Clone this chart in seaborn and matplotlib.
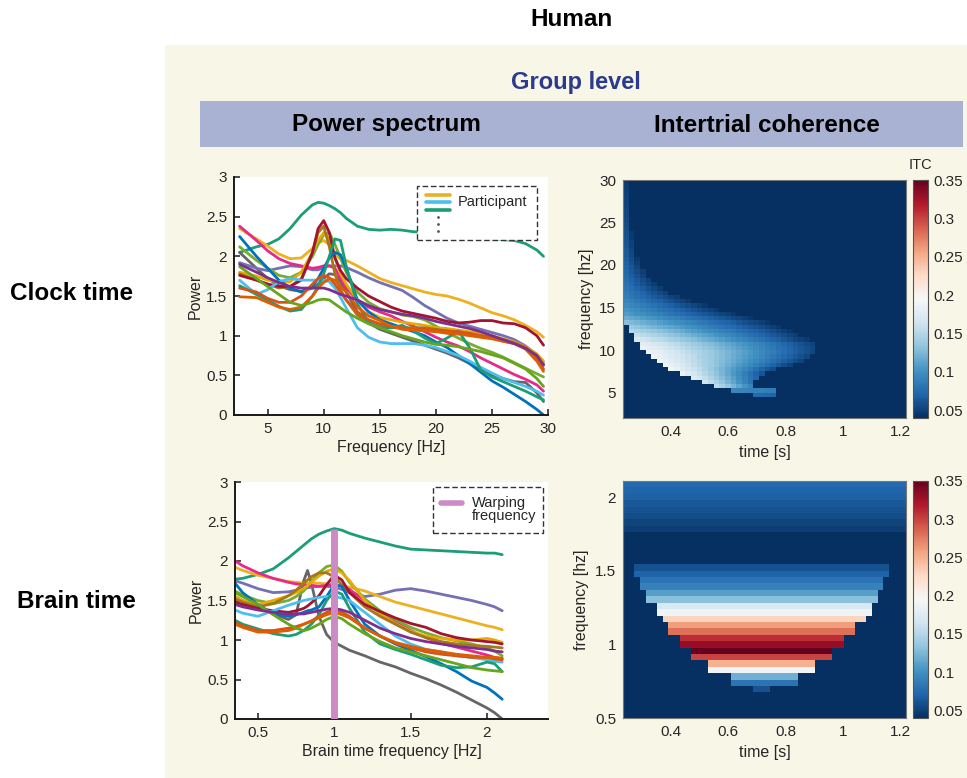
import numpy as np
import pandas as pd
import matplotlib
matplotlib.use("Agg")
import matplotlib.pyplot as plt
from matplotlib.patches import Rectangle
from matplotlib.lines import Line2D
import seaborn as sns

sns.set_theme(style="ticks")
plt.rcParams["font.family"] = ["Liberation Sans", "DejaVu Sans"]

# ---------------------------------------------------------------- participants
participants = [f"P{i:02d}" for i in range(1, 17)]
participant_colors = ["#1B9E77", "#666666", "#7570B3", "#EDB120", "#E7298A", "#77AC30",
                      "#E6AB02", "#A6761D", "#A2142F", "#0072BD", "#4DBEEE", "#1B9E77",
                      "#D95319", "#D95F02", "#66A61E", "#7E2F8E"]

# ---------------------------------------------------------------- clock-time spectra
clock_freq = [2.5, 4, 5, 6, 7, 8, 9, 9.5, 10, 10.5, 11, 11.5, 12, 13, 14, 15, 16, 17, 18, 19,
              20, 21, 22, 23, 24, 25, 26, 27, 28, 29, 29.6]
clock_p01 = [2.05, 2.12, 2.15, 2.22, 2.35, 2.52, 2.65, 2.68, 2.67, 2.64, 2.60, 2.55, 2.48, 2.38, 2.34, 2.33,
             2.34, 2.33, 2.31, 2.30, 2.28, 2.27, 2.26, 2.25, 2.24, 2.22, 2.21, 2.20, 2.16, 2.08, 2.00]
clock_p02 = [2.05, 1.85, 1.72, 1.63, 1.58, 1.56, 1.60, 1.65, 1.72, 1.78, 1.77, 1.68, 1.55, 1.30, 1.16, 1.08,
             1.03, 0.98, 0.93, 0.88, 0.83, 0.78, 0.72, 0.65, 0.58, 0.51, 0.46, 0.42, 0.41, 0.28, 0.17]
clock_p03 = [1.92, 1.85, 1.82, 1.85, 1.88, 1.87, 1.83, 1.83, 1.86, 1.88, 1.88, 1.88, 1.86, 1.80, 1.73, 1.67,
             1.62, 1.57, 1.48, 1.38, 1.30, 1.22, 1.16, 1.12, 1.08, 1.04, 1.00, 0.95, 0.87, 0.76, 0.65]
clock_p04 = [2.35, 2.22, 2.13, 2.03, 1.97, 1.98, 2.10, 2.17, 2.20, 2.15, 2.02, 1.97, 1.95, 1.88, 1.80, 1.72,
             1.67, 1.63, 1.59, 1.55, 1.52, 1.50, 1.46, 1.41, 1.35, 1.29, 1.25, 1.20, 1.13, 1.05, 0.98]
clock_p05 = [2.38, 2.20, 2.07, 1.97, 1.91, 1.88, 1.85, 1.86, 1.88, 1.88, 1.85, 1.72, 1.60, 1.45, 1.36, 1.30,
             1.25, 1.18, 1.12, 1.05, 0.98, 0.92, 0.87, 0.80, 0.72, 0.65, 0.58, 0.51, 0.45, 0.38, 0.30]
clock_p06 = [2.12, 1.95, 1.85, 1.76, 1.73, 1.80, 2.00, 2.15, 2.27, 2.30, 2.15, 1.98, 1.80, 1.55, 1.42, 1.34,
             1.30, 1.26, 1.24, 1.20, 1.12, 1.04, 0.97, 0.90, 0.84, 0.79, 0.73, 0.66, 0.59, 0.52, 0.48]
clock_p07 = [1.80, 1.75, 1.70, 1.68, 1.68, 1.80, 2.05, 2.20, 2.30, 2.22, 1.98, 1.78, 1.65, 1.45, 1.30, 1.23,
             1.20, 1.17, 1.15, 1.13, 1.10, 1.09, 1.07, 1.05, 1.03, 1.00, 0.96, 0.92, 0.86, 0.77, 0.68]
clock_p08 = [1.78, 1.70, 1.65, 1.60, 1.62, 1.72, 2.05, 2.30, 2.38, 2.12, 1.78, 1.58, 1.45, 1.26, 1.16, 1.12,
             1.10, 1.10, 1.10, 1.10, 1.08, 1.06, 1.04, 1.02, 1.00, 0.98, 0.95, 0.91, 0.85, 0.75, 0.63]
clock_p09 = [1.76, 1.70, 1.65, 1.62, 1.62, 1.70, 2.05, 2.35, 2.45, 2.30, 1.98, 1.82, 1.72, 1.60, 1.50, 1.43,
             1.36, 1.31, 1.28, 1.25, 1.22, 1.18, 1.16, 1.17, 1.19, 1.19, 1.16, 1.15, 1.10, 1.00, 0.88]
clock_p10 = [2.25, 2.00, 1.85, 1.70, 1.60, 1.55, 1.62, 1.72, 1.85, 1.98, 2.05, 2.02, 1.85, 1.45, 1.30, 1.20,
             1.15, 1.10, 1.05, 1.00, 0.92, 0.85, 0.75, 0.65, 0.54, 0.43, 0.35, 0.26, 0.17, 0.07, 0.00]
clock_p11 = [1.70, 1.52, 1.58, 1.68, 1.72, 1.70, 1.70, 1.70, 1.70, 1.68, 1.60, 1.48, 1.35, 1.10, 0.98, 0.92,
             0.90, 0.90, 0.90, 0.88, 0.85, 0.80, 0.75, 0.68, 0.60, 0.53, 0.46, 0.41, 0.36, 0.30, 0.25]
clock_p12 = [1.63, 1.52, 1.45, 1.37, 1.31, 1.33, 1.50, 1.62, 1.78, 2.00, 2.22, 2.20, 1.88, 1.40, 1.17, 1.10,
             1.10, 1.13, 1.06, 0.97, 0.90, 0.97, 1.06, 0.85, 0.57, 0.48, 0.42, 0.36, 0.30, 0.23, 0.19]
clock_p13 = [1.60, 1.55, 1.47, 1.42, 1.42, 1.50, 1.65, 1.72, 1.76, 1.73, 1.65, 1.55, 1.45, 1.30, 1.20, 1.15,
             1.12, 1.10, 1.08, 1.08, 1.07, 1.06, 1.05, 1.03, 1.00, 0.97, 0.93, 0.90, 0.85, 0.72, 0.58]
clock_p14 = [1.49, 1.48, 1.42, 1.36, 1.33, 1.36, 1.50, 1.60, 1.67, 1.72, 1.70, 1.62, 1.55, 1.36, 1.25, 1.19,
             1.12, 1.08, 1.07, 1.06, 1.05, 1.03, 1.02, 1.00, 0.98, 0.96, 0.93, 0.90, 0.83, 0.68, 0.55]
clock_p15 = [1.87, 1.72, 1.62, 1.52, 1.42, 1.38, 1.42, 1.45, 1.46, 1.45, 1.40, 1.35, 1.30, 1.22, 1.15, 1.10,
             1.05, 1.00, 0.96, 0.92, 0.89, 0.88, 0.86, 0.83, 0.80, 0.76, 0.72, 0.65, 0.58, 0.46, 0.36]
clock_p16 = [1.90, 1.80, 1.73, 1.67, 1.62, 1.60, 1.60, 1.60, 1.60, 1.58, 1.55, 1.52, 1.50, 1.45, 1.38, 1.33,
             1.30, 1.27, 1.25, 1.22, 1.18, 1.15, 1.12, 1.09, 1.05, 1.00, 0.95, 0.90, 0.84, 0.75, 0.63]
clock_power = [clock_p01, clock_p02, clock_p03, clock_p04, clock_p05, clock_p06, clock_p07, clock_p08,
               clock_p09, clock_p10, clock_p11, clock_p12, clock_p13, clock_p14, clock_p15, clock_p16]

# ---------------------------------------------------------------- brain-time spectra
brain_freq = [0.35, 0.4, 0.5, 0.6, 0.7, 0.75, 0.8, 0.825, 0.85, 0.9, 0.95, 1.0, 1.05, 1.1, 1.2, 1.3,
              1.4, 1.5, 1.6, 1.7, 1.8, 1.9, 2.0, 2.05, 2.1]
brain_p01 = [1.77, 1.78, 1.83, 1.90, 2.04, 2.12, 2.20, 2.24, 2.28, 2.34, 2.38, 2.41, 2.39, 2.35, 2.29, 2.24,
             2.19, 2.15, 2.14, 2.13, 2.12, 2.11, 2.10, 2.10, 2.08]
brain_p02 = [1.55, 1.50, 1.42, 1.33, 1.26, 1.32, 1.75, 1.88, 1.72, 1.30, 1.07, 0.97, 0.92, 0.87, 0.80, 0.72,
             0.66, 0.58, 0.51, 0.43, 0.34, 0.24, 0.14, 0.08, 0.00]
brain_p03 = [1.75, 1.72, 1.65, 1.60, 1.61, 1.63, 1.65, 1.66, 1.67, 1.68, 1.68, 1.67, 1.64, 1.60, 1.55, 1.58,
             1.63, 1.65, 1.62, 1.58, 1.54, 1.50, 1.45, 1.42, 1.37]
brain_p04 = [1.92, 1.88, 1.82, 1.78, 1.74, 1.73, 1.72, 1.72, 1.72, 1.72, 1.71, 1.70, 1.69, 1.67, 1.62, 1.55,
             1.48, 1.43, 1.38, 1.33, 1.28, 1.23, 1.18, 1.16, 1.13]
brain_p05 = [2.00, 1.94, 1.85, 1.78, 1.73, 1.71, 1.70, 1.69, 1.69, 1.68, 1.69, 1.70, 1.68, 1.64, 1.50, 1.36,
             1.23, 1.12, 1.03, 0.96, 0.91, 0.86, 0.81, 0.78, 0.76]
brain_p06 = [1.62, 1.57, 1.50, 1.46, 1.50, 1.55, 1.62, 1.68, 1.74, 1.85, 1.93, 1.95, 1.87, 1.73, 1.52, 1.37,
             1.26, 1.16, 1.09, 1.03, 0.99, 0.95, 0.90, 0.86, 0.80]
brain_p07 = [1.55, 1.50, 1.45, 1.50, 1.56, 1.60, 1.65, 1.69, 1.73, 1.81, 1.87, 1.90, 1.85, 1.75, 1.50, 1.33,
             1.21, 1.11, 1.05, 1.02, 1.00, 1.00, 1.02, 1.00, 0.97]
brain_p08 = [1.52, 1.48, 1.42, 1.46, 1.56, 1.63, 1.72, 1.76, 1.80, 1.85, 1.85, 1.80, 1.70, 1.60, 1.42, 1.30,
             1.20, 1.10, 1.03, 0.98, 0.95, 0.93, 0.92, 0.91, 0.90]
brain_p09 = [1.48, 1.45, 1.40, 1.37, 1.35, 1.37, 1.40, 1.43, 1.47, 1.56, 1.70, 1.82, 1.76, 1.60, 1.45, 1.36,
             1.28, 1.21, 1.16, 1.08, 1.03, 1.00, 0.98, 0.97, 0.95]
brain_p10 = [1.72, 1.60, 1.45, 1.33, 1.30, 1.32, 1.35, 1.37, 1.38, 1.42, 1.55, 1.70, 1.68, 1.50, 1.20, 1.05,
             0.95, 0.87, 0.79, 0.70, 0.60, 0.48, 0.40, 0.33, 0.25]
brain_p11 = [1.38, 1.34, 1.30, 1.37, 1.44, 1.47, 1.50, 1.51, 1.52, 1.54, 1.55, 1.55, 1.53, 1.50, 1.35, 1.20,
             1.05, 0.95, 0.88, 0.85, 0.80, 0.78, 0.75, 0.73, 0.72]
brain_p12 = [1.25, 1.20, 1.14, 1.08, 1.05, 1.07, 1.12, 1.16, 1.20, 1.32, 1.50, 1.62, 1.58, 1.40, 1.10, 0.95,
             0.88, 0.82, 0.75, 0.68, 0.65, 0.66, 0.72, 0.70, 0.60]
brain_p13 = [1.22, 1.18, 1.12, 1.12, 1.15, 1.17, 1.20, 1.22, 1.24, 1.30, 1.35, 1.38, 1.35, 1.30, 1.15, 1.05,
             0.96, 0.90, 0.85, 0.82, 0.80, 0.78, 0.78, 0.76, 0.75]
brain_p14 = [1.20, 1.16, 1.10, 1.10, 1.12, 1.15, 1.20, 1.22, 1.24, 1.28, 1.32, 1.35, 1.32, 1.28, 1.15, 1.05,
             0.97, 0.92, 0.88, 0.85, 0.82, 0.80, 0.78, 0.78, 0.77]
brain_p15 = [1.60, 1.55, 1.45, 1.32, 1.20, 1.15, 1.12, 1.13, 1.15, 1.20, 1.26, 1.30, 1.27, 1.20, 1.08, 0.98,
             0.90, 0.85, 0.80, 0.75, 0.70, 0.65, 0.62, 0.61, 0.60]
brain_p16 = [1.45, 1.42, 1.38, 1.35, 1.33, 1.33, 1.33, 1.34, 1.35, 1.37, 1.39, 1.40, 1.38, 1.35, 1.25, 1.15,
             1.08, 1.02, 0.98, 0.95, 0.92, 0.90, 0.88, 0.86, 0.85]
brain_power = [brain_p01, brain_p02, brain_p03, brain_p04, brain_p05, brain_p06, brain_p07, brain_p08,
               brain_p09, brain_p10, brain_p11, brain_p12, brain_p13, brain_p14, brain_p15, brain_p16]

warp_freq = 1.0
warp_height = 2.4
warp_color = "#CC8BC5"

# ---------------------------------------------------------------- ITC maps
itc_vmin, itc_vmax = 0.04, 0.35
itc_background = 0.04
itc_ticks = [0.05, 0.1, 0.15, 0.2, 0.25, 0.3, 0.35]
time_start, time_stop, n_time = 0.232, 1.221, 50

# clock time: 0.5 Hz rows from 2 to 30 Hz; rows with coherence listed by lower edge
clock_itc_row = [4.5, 5.0, 5.5, 6.0, 6.5, 7.0, 7.5, 8.0, 8.5, 9.0, 9.5, 10.0, 10.5, 11.0, 11.5, 12.0, 12.5,
                 13.0, 13.5, 14.0, 14.5, 15.0, 15.5, 16.0, 16.5, 17.0, 17.5, 18.0, 18.5, 19.0, 19.5, 20.0,
                 20.5, 21.0, 21.5, 22.0, 22.5, 23.0, 23.5, 24.0, 24.5, 25.0, 25.5, 26.0, 26.5, 27.0, 27.5,
                 28.0, 28.5, 29.0, 29.5]
clock_itc_onset = [0.694, 0.606, 0.55, 0.50, 0.46, 0.43, 0.40, 0.375, 0.35, 0.33, 0.315, 0.30, 0.292, 0.28,
                   0.27, 0.26, 0.248, 0.24, 0.232, 0.232, 0.232, 0.232, 0.232, 0.232, 0.232, 0.232, 0.232,
                   0.232, 0.232, 0.232, 0.232, 0.232, 0.232, 0.232, 0.232, 0.232, 0.232, 0.232, 0.232, 0.232,
                   0.232, 0.232, 0.232, 0.232, 0.232, 0.232, 0.232, 0.232, 0.232, 0.232, 0.232]
clock_itc_end = [0.771, 0.775, 0.68, 0.68, 0.70, 0.72, 0.76, 0.82, 0.86, 0.89, 0.91, 0.91, 0.90, 0.88, 0.85,
                 0.82, 0.78, 0.74, 0.68, 0.62, 0.57, 0.52, 0.47, 0.43, 0.40, 0.37, 0.35, 0.335, 0.32, 0.31,
                 0.30, 0.29, 0.285, 0.28, 0.275, 0.27, 0.27, 0.265, 0.265, 0.26, 0.26, 0.258, 0.256, 0.255,
                 0.254, 0.253, 0.252, 0.25, 0.25, 0.248, 0.246]
clock_itc_start_val = [0.075, 0.095, 0.16, 0.175, 0.185, 0.19, 0.19, 0.19, 0.19, 0.19, 0.19, 0.185, 0.18,
                       0.17, 0.16, 0.15, 0.14, 0.13, 0.12, 0.11, 0.105, 0.10, 0.095, 0.09, 0.088, 0.085,
                       0.082, 0.08, 0.078, 0.076, 0.075, 0.073, 0.072, 0.07, 0.07, 0.068, 0.067, 0.066,
                       0.065, 0.064, 0.063, 0.062, 0.061, 0.06, 0.059, 0.058, 0.057, 0.056, 0.055, 0.054,
                       0.052]
clock_itc_end_val = [0.07, 0.085, 0.09, 0.08, 0.07, 0.06, 0.055, 0.05, 0.05, 0.05, 0.05, 0.05, 0.05, 0.045,
                     0.045, 0.045, 0.045, 0.045, 0.045, 0.045, 0.045, 0.045, 0.045, 0.045, 0.045, 0.045,
                     0.045, 0.045, 0.045, 0.045, 0.045, 0.045, 0.045, 0.045, 0.045, 0.045, 0.045, 0.045,
                     0.045, 0.045, 0.045, 0.045, 0.045, 0.045, 0.045, 0.045, 0.045, 0.045, 0.045, 0.045,
                     0.045]

# brain time: 37 rows of 0.0435 Hz from 0.5 Hz, listed bottom to top
brain_itc_low, brain_itc_step = 0.5, 0.0435
brain_itc_level = [0.04, 0.04, 0.04, 0.04, 0.06, 0.08, 0.12, 0.19, 0.25, 0.30, 0.35, 0.33, 0.31, 0.28,
                   0.26, 0.23, 0.19, 0.17, 0.13, 0.11, 0.09, 0.08, 0.07, 0.06, 0.04, 0.04, 0.04, 0.04,
                   0.04, 0.048, 0.052, 0.056, 0.06, 0.064, 0.068, 0.071, 0.074]
brain_itc_onset = [0, 0, 0, 0, 0.686, 0.606, 0.606, 0.527, 0.527, 0.478, 0.478, 0.429, 0.429, 0.40, 0.40,
                   0.371, 0.342, 0.342, 0.313, 0.313, 0.292, 0.292, 0.271, 0.271, 0, 0, 0, 0, 0, 0.232,
                   0.232, 0.232, 0.232, 0.232, 0.232, 0.232, 0.232]
brain_itc_end = [0, 0, 0, 0, 0.753, 0.839, 0.839, 0.909, 0.909, 0.958, 0.958, 1.008, 1.008, 1.047, 1.047,
                 1.076, 1.105, 1.105, 1.125, 1.125, 1.146, 1.146, 1.163, 1.163, 0, 0, 0, 0, 0, 1.221,
                 1.221, 1.221, 1.221, 1.221, 1.221, 1.221, 1.221]

# ---------------------------------------------------------------- styling
ink = "#262626"
beige = "#F8F6E7"
band = "#A9B2D2"
tick_size = 11
label_size = 11.5
head_size = 17.5

W, H = 967, 778
fig = plt.figure(figsize=(W / 100, H / 100), dpi=100)
fig.patch.set_facecolor("white")


def px_axes(x0, y0, x1, y1):
    return fig.add_axes([x0 / W, 1 - y1 / H, (x1 - x0) / W, (y1 - y0) / H])


def fig_text(x, y, s, **kw):
    fig.text(x / W, 1 - y / H, s, ha="center", va="center", **kw)


# backgrounds and headings
fig.patches.append(Rectangle((165 / W, 0), 1 - 165 / W, 1 - 45 / H, transform=fig.transFigure,
                             facecolor=beige, edgecolor="none", zorder=-5))
fig.patches.append(Rectangle((200 / W, 1 - 147 / H), 763 / W, 46 / H, transform=fig.transFigure,
                             facecolor=band, edgecolor="none", zorder=-4))
fig_text(572, 19, "Human", fontsize=head_size, fontweight="bold", color="black")
fig_text(576, 82, "Group level", fontsize=17, fontweight="bold", color="#2B3A8E")
fig_text(386, 125, "Power spectrum", fontsize=head_size, fontweight="bold", color="black")
fig_text(767, 125, "Intertrial coherence", fontsize=head_size, fontweight="bold", color="black")
fig_text(72, 293, "Clock time", fontsize=head_size, fontweight="bold", color="black")
fig_text(76, 602, "Brain time", fontsize=head_size, fontweight="bold", color="black")

palette = dict(zip(participants, participant_colors))


def spectrum(ax, freqs, curves, xlim, xticks, xticklabels, xlabel):
    records = []
    for pid, values in zip(participants, curves):
        for f, p in zip(freqs, values):
            records.append((pid, f, p))
    df = pd.DataFrame(records, columns=["participant", "freq", "power"])
    sns.lineplot(data=df, x="freq", y="power", hue="participant", palette=palette,
                 estimator=None, sort=False, linewidth=2.0, legend=False, ax=ax)
    ax.set_facecolor("white")
    ax.set_xlim(*xlim)
    ax.set_ylim(0, 3)
    ax.set_xticks(xticks)
    ax.set_xticklabels(xticklabels)
    ax.set_yticks([0, 0.5, 1, 1.5, 2, 2.5, 3])
    ax.set_yticklabels(["0", "0.5", "1", "1.5", "2", "2.5", "3"])
    sns.despine(ax=ax)
    for s in ("left", "bottom"):
        ax.spines[s].set_color("#1a1a1a")
        ax.spines[s].set_linewidth(1.4)
    ax.tick_params(direction="in", length=4, width=1.1, color="#1a1a1a",
                   labelsize=tick_size, labelcolor=ink, pad=5)
    ax.set_xlabel(xlabel, fontsize=label_size, color=ink, labelpad=3)
    ax.set_ylabel("Power", fontsize=label_size, color=ink, labelpad=2)


def dashed_box(ax, x0, y0, x1, y1):
    ax.add_patch(Rectangle((x0, y0), x1 - x0, y1 - y0, transform=ax.transAxes, facecolor="white",
                           edgecolor="#333333", linewidth=1.0, linestyle=(0, (4, 2)),
                           clip_on=False, zorder=5))


# ---- clock-time spectra
ax_tl = px_axes(234, 177, 548, 415)
spectrum(ax_tl, clock_freq, clock_power, (2, 30), [5, 10, 15, 20, 25, 30],
         ["5", "10", "15", "20", "25", "30"], "Frequency [Hz]")
dashed_box(ax_tl, 0.583, 0.735, 0.965, 0.962)
for yy, c in zip([0.924, 0.893, 0.861], ["#EDB120", "#4DBEEE", "#1B9E77"]):
    ax_tl.add_line(Line2D([0.611, 0.688], [yy, yy], transform=ax_tl.transAxes, color=c,
                          linewidth=2.6, zorder=6))
for yy in [0.831, 0.803, 0.775]:
    ax_tl.add_line(Line2D([0.650], [yy], transform=ax_tl.transAxes, marker="o", markersize=2.0,
                          markeredgewidth=0, color="#555555", linestyle="none", zorder=6))
ax_tl.text(0.713, 0.893, "Participant", transform=ax_tl.transAxes, fontsize=10.5, color=ink,
           ha="left", va="center", zorder=6)

# ---- brain-time spectra
ax_bl = px_axes(235, 482, 548, 719)
spectrum(ax_bl, brain_freq, brain_power, (0.35, 2.4), [0.5, 1, 1.5, 2],
         ["0.5", "1", "1.5", "2"], "Brain time frequency [Hz]")
ax_bl.plot([warp_freq, warp_freq], [0, warp_height], color=warp_color, linewidth=5.0,
           solid_capstyle="butt", zorder=4)
dashed_box(ax_bl, 0.633, 0.785, 0.984, 0.979)
ax_bl.add_line(Line2D([0.658, 0.725], [0.911, 0.911], transform=ax_bl.transAxes, color=warp_color,
                      linewidth=4.0, zorder=6))
ax_bl.text(0.757, 0.913, "Warping", transform=ax_bl.transAxes, fontsize=10.5, color=ink,
           ha="left", va="center", zorder=6)
ax_bl.text(0.757, 0.855, "frequency", transform=ax_bl.transAxes, fontsize=10.5, color=ink,
           ha="left", va="center", zorder=6)

# ---- ITC maps
time_step = (time_stop - time_start) / n_time
time_centers = time_start + time_step * (np.arange(n_time) + 0.5)


def fill_rows(n_rows, row_index, onset, end, v_start, v_end):
    grid = np.full((n_rows, n_time), itc_background)
    for r, t0, t1, a, b in zip(row_index, onset, end, v_start, v_end):
        if t1 <= t0:
            continue
        inside = (time_centers >= t0) & (time_centers < t1)
        frac = (time_centers[inside] - t0) / (t1 - t0)
        grid[r, inside] = a + (b - a) * frac
    return grid


def itc_panel(ax, cax, grid, ytick_pos, ytick_labels, show_title):
    sns.heatmap(grid[::-1], ax=ax, cmap="RdBu_r", vmin=itc_vmin, vmax=itc_vmax, cbar_ax=cax,
                cbar_kws={"ticks": itc_ticks}, xticklabels=False, yticklabels=False)
    xt = [0.4, 0.6, 0.8, 1.0, 1.2]
    ax.set_xticks([(t - time_start) / time_step for t in xt])
    ax.set_xticklabels(["0.4", "0.6", "0.8", "1", "1.2"], rotation=0)
    ax.set_yticks(ytick_pos)
    ax.set_yticklabels(ytick_labels, rotation=0)
    ax.tick_params(length=0, labelsize=tick_size, labelcolor=ink, pad=5)
    for s in ax.spines.values():
        s.set_visible(True)
        s.set_color("#777777")
        s.set_linewidth(0.8)
    ax.set_xlabel("time [s]", fontsize=label_size, color=ink, labelpad=4)
    ax.set_ylabel("frequency [hz]", fontsize=label_size, color=ink, labelpad=4)
    cbar = ax.collections[0].colorbar
    cbar.outline.set_edgecolor("#555555")
    cbar.outline.set_linewidth(0.8)
    cax.set_yticklabels(["0.05", "0.1", "0.15", "0.2", "0.25", "0.3", "0.35"])
    cax.tick_params(direction="in", length=3, width=0.8, color="#555555",
                    labelsize=tick_size, labelcolor=ink, pad=4)
    if show_title:
        cax.set_title("ITC", fontsize=10.5, color=ink, pad=8)


clock_low, clock_step, clock_rows = 2.0, 0.5, 56
clock_grid = fill_rows(clock_rows, [int(round((f - clock_low) / clock_step)) for f in clock_itc_row],
                       clock_itc_onset, clock_itc_end, clock_itc_start_val, clock_itc_end_val)
clock_top = clock_low + clock_step * clock_rows
ax_tr = px_axes(623, 180, 906, 418)
cax_tr = px_axes(913, 180, 928, 418)
itc_panel(ax_tr, cax_tr, clock_grid,
          [(clock_top - f) / clock_step for f in [5, 10, 15, 20, 25, 30]],
          ["5", "10", "15", "20", "25", "30"], True)

brain_rows = len(brain_itc_level)
brain_grid = fill_rows(brain_rows, range(brain_rows), brain_itc_onset, brain_itc_end,
                       brain_itc_level, brain_itc_level)
brain_top = brain_itc_low + brain_itc_step * brain_rows
ax_br = px_axes(623, 481, 906, 718)
cax_br = px_axes(913, 481, 928, 718)
itc_panel(ax_br, cax_br, brain_grid,
          [(brain_top - f) / brain_itc_step for f in [0.5, 1, 1.5, 2]],
          ["0.5", "1", "1.5", "2"], False)

fig.savefig("out.png", dpi=100)
